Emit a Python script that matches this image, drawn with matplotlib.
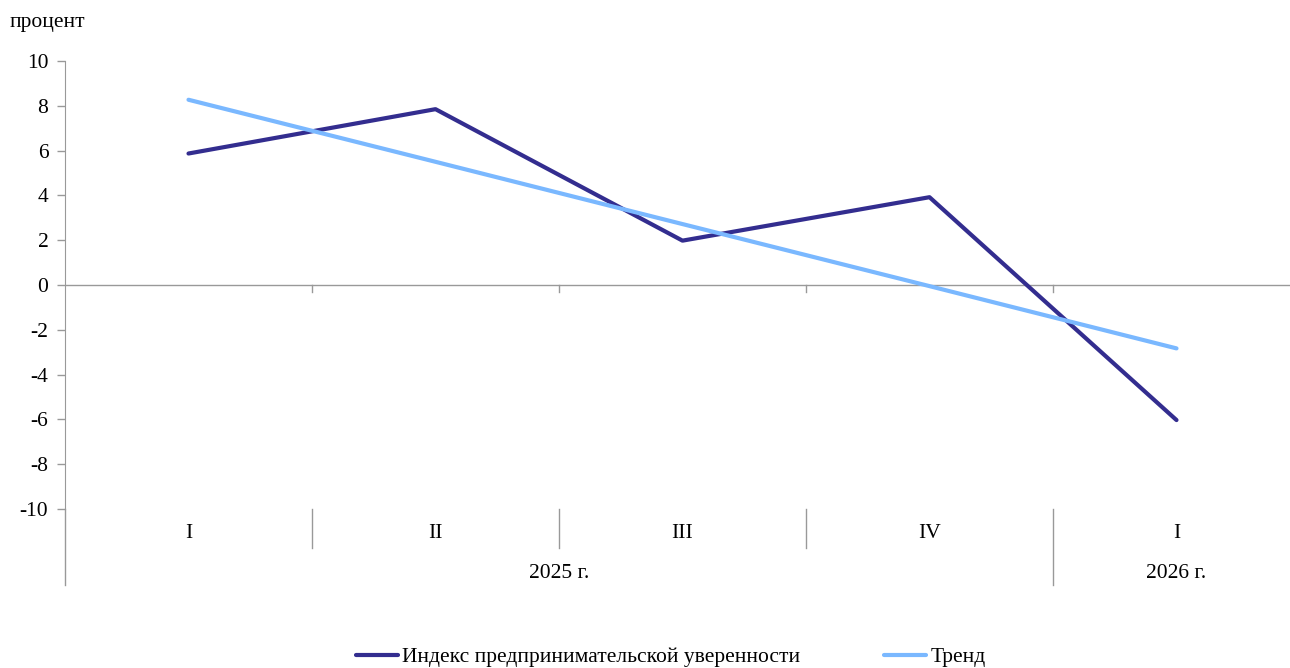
import matplotlib.pyplot as plt
from matplotlib import transforms

plt.rcParams['font.family'] = ['Liberation Serif', 'DejaVu Serif']
plt.rcParams['font.size'] = 15.5
plt.rcParams['axes.unicode_minus'] = False

quarters = ['I', 'II', 'III', 'IV', 'I']
years = ['2025 г.', '2026 г.']
year_spans = [(0, 3), (4, 4)]  # индексы кварталов в каждом году
index_vals = [5.87, 7.85, 1.98, 3.92, -6.03]
trend_vals = [8.27, 5.5, 2.72, -0.05, -2.83]

fig = plt.figure(figsize=(12.9, 6.68), dpi=100)
W, H = 1290, 668
ax = fig.add_axes([65 / W, (H - 509) / H, 1235 / W, 448 / H])

x = range(len(quarters))
ax.plot(x, index_vals, color='#332d8f', lw=3, label='Индекс предпринимательской уверенности', solid_capstyle='round')
ax.plot(x, trend_vals, color='#7ab8ff', lw=3, label='Тренд', solid_capstyle='round')

ax.set_xlim(-0.5, len(quarters) - 0.5)
ax.set_ylim(-10, 10)
ax.set_yticks(range(-10, 11, 2))
ax.set_xticks([])
for s in ['top', 'right', 'bottom']:
    ax.spines[s].set_visible(False)
ax.spines['left'].set_color('#999999')
ax.spines['left'].set_bounds(-10, 10)
ax.tick_params(axis='y', length=6, color='#999999', width=1, pad=6)
ax.axhline(0, color='#999999', lw=1, zorder=0)

gray = '#999999'
trans = transforms.blended_transform_factory(ax.transData, fig.transFigure)
px = lambda p: (H - p) / H

# левая ось продолжается вниз под подписями
ax.plot([-0.5, -0.5], [px(509), px(585)], transform=trans, color=gray, lw=1, clip_on=False)

# засечки на нулевой линии и разделители кварталов
for b in range(1, len(quarters)):
    ax.plot([b - 0.5, b - 0.5], [0, -0.3], color=gray, lw=1, clip_on=False)
    end = 585 if b == 4 else 548
    ax.plot([b - 0.5, b - 0.5], [px(509), px(end)], transform=trans, color=gray, lw=1, clip_on=False)

for i, q in enumerate(quarters):
    ax.text(i, px(533), q, transform=trans, ha='center', va='center')
for (a, b), y in zip(year_spans, years):
    ax.text((a + b) / 2, px(573), y, transform=trans, ha='center', va='center')

fig.text(10 / W, px(22), 'процент', ha='left', va='center')

fig.legend(loc='center', bbox_to_anchor=(671 / W, px(657)), ncol=2, frameon=False,
           handlelength=1.95, handletextpad=0.2, columnspacing=3.9)

fig.savefig('out.png', dpi=100)
